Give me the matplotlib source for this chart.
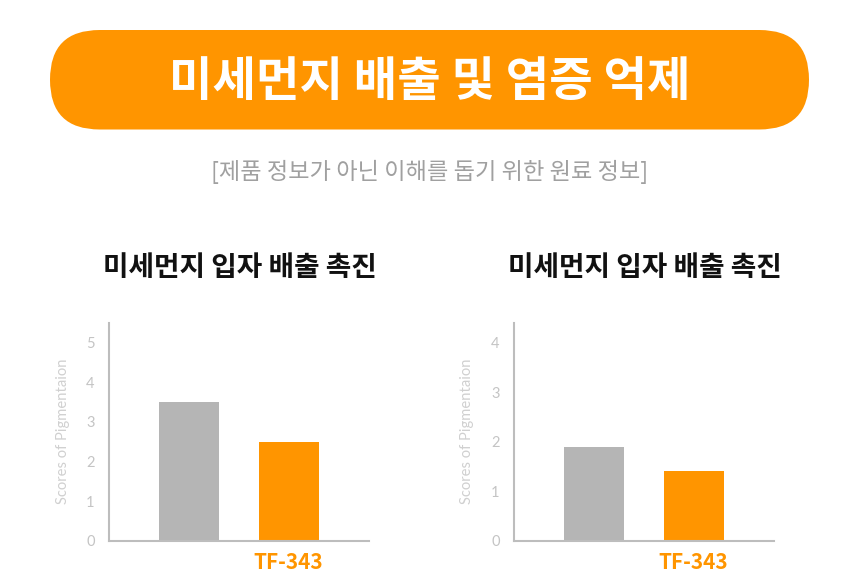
import matplotlib
matplotlib.use("Agg")
import matplotlib.pyplot as plt
from matplotlib.patches import FancyBboxPatch

plt.rcParams['font.family'] = ['Noto Sans CJK KR', 'DejaVu Sans']

title = "미세먼지 배출 및 염증 억제"
subtitle = "[제품 정보가 아닌 이해를 돕기 위한 원료 정보]"
panel_titles = ["미세먼지 입자 배출 촉진", "미세먼지 입자 배출 촉진"]
categories = ["", "TF-343"]
values_left = [3.5, 2.5]
values_right = [1.9, 1.4]
ylims = [5.5, 4.4]
yticks_left = [0, 1, 2, 3, 4, 5]
yticks_right = [0, 1, 2, 3, 4]
ylabel = "Scores of Pigmentaion"

ORANGE = "#FF9500"
GRAY_BAR = "#B5B5B5"
AXIS_GRAY = "#BDBDBD"
TICK_GRAY = "#C4C4C4"

W, H = 860, 580
fig = plt.figure(figsize=(W / 100, H / 100), dpi=100)

# background overlay axes in pixel coordinates
bg = fig.add_axes([0, 0, 1, 1])
bg.set_xlim(0, W)
bg.set_ylim(H, 0)
bg.axis("off")
banner = FancyBboxPatch((50, 30), 759, 99.5,
                        boxstyle="round,pad=0,rounding_size=49.7",
                        facecolor=ORANGE, edgecolor="none")
bg.add_patch(banner)
bg.text(430, 82, title, color="white", fontsize=34, fontweight="bold",
        ha="center", va="center")
bg.text(430, 172, subtitle, color="#A0A0A0", fontsize=16.7,
        ha="center", va="center")

panels = [
    (108.5 / W, values_left, ylims[0], yticks_left, 240),
    (513.5 / W, values_right, ylims[1], yticks_right, 645),
]
ax_w = 260 / W
ax_b = (H - 540.7) / H
ax_h = (540.7 - 322.7) / H

for i, (left, vals, ymax, yt, cx) in enumerate(panels):
    ax = fig.add_axes([left, ax_b, ax_w, ax_h])
    x = list(range(len(categories)))
    ax.bar(x, vals, width=0.6, color=[GRAY_BAR, ORANGE], zorder=2)
    ax.set_xlim(-0.8, 1.8)
    ax.set_ylim(0, ymax)
    ax.set_yticks(yt)
    ax.set_yticklabels([str(t) for t in yt], family=["Lato", "DejaVu Sans"],
                       fontsize=10.5, color=TICK_GRAY)
    ax.set_xticks(x)
    ax.set_xticklabels(categories, color=ORANGE, fontsize=15, fontweight="bold")
    ax.tick_params(axis="both", length=0)
    ax.tick_params(axis="y", pad=10)
    ax.tick_params(axis="x", pad=8)
    for s in ["top", "right"]:
        ax.spines[s].set_visible(False)
    for s in ["left", "bottom"]:
        ax.spines[s].set_color(AXIS_GRAY)
        ax.spines[s].set_linewidth(1.5)
    ax.set_ylabel(ylabel, family=["Lato", "DejaVu Sans"], fontsize=10.6,
                  color="#D0D0D0")
    ax.yaxis.set_label_coords(-0.15, 0.5)
    ax.set_facecolor("none")
    bg.text(cx, 268, panel_titles[i], color="#111111", fontsize=20,
            fontweight="bold", ha="center", va="center")

fig.savefig("out.png", dpi=100)
